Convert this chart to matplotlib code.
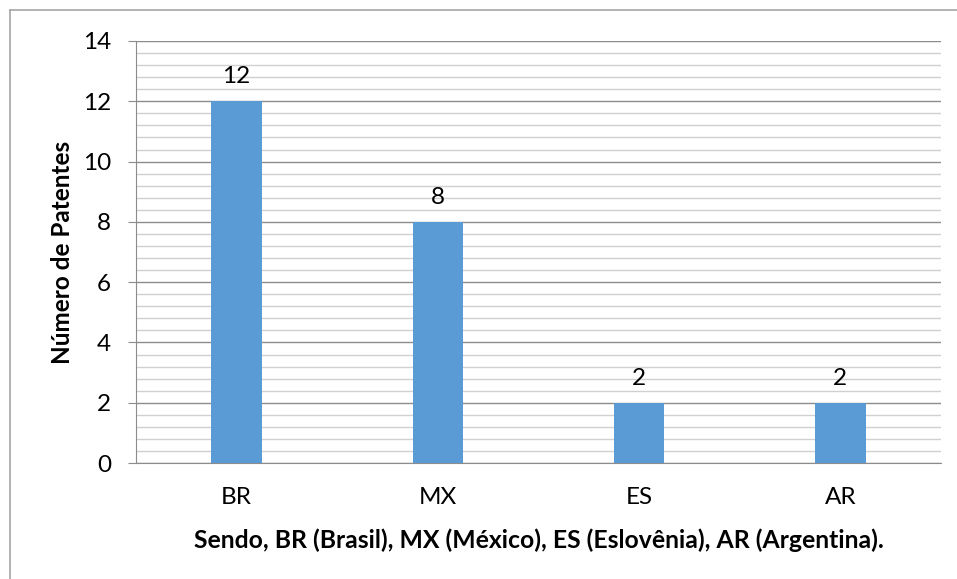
import numpy as np
import matplotlib.pyplot as plt
from matplotlib.lines import Line2D

# data
paises = ["BR", "MX", "ES", "AR"]
patentes = [12, 8, 2, 2]

plt.rcParams['font.family'] = ['Lato', 'DejaVu Sans']

fig = plt.figure(figsize=(9.57, 5.79), dpi=100)
ax = fig.add_axes([0.1421, 0.2003, 0.8412, 0.7289])

x = np.arange(len(paises))
ax.bar(x, patentes, width=0.25, color="#5b9bd5", zorder=3)

for xi, v in zip(x, patentes):
    ax.annotate(str(v), (xi, v), xytext=(0, 10), textcoords="offset points",
                ha="center", va="bottom", fontsize=17.5)

ax.set_xlim(-0.5, len(paises) - 0.5)
ax.set_ylim(0, 14)
ax.set_yticks(np.arange(0, 15, 2))
ax.set_yticks(np.arange(0, 14.01, 0.4), minor=True)
ax.grid(which="major", axis="y", color="#8c8c8c", linewidth=1, zorder=0)
ax.grid(which="minor", axis="y", color="#d0d0d0", linewidth=1, zorder=0)

ax.set_xticks(x)
ax.set_xticklabels(paises, fontsize=17.5)
ax.tick_params(axis="x", length=0, pad=17)
ax.tick_params(axis="y", which="major", length=6, color="#8c8c8c", labelsize=17.5, pad=12)
ax.tick_params(axis="y", which="minor", length=0)

for s in ["top", "right"]:
    ax.spines[s].set_visible(False)
ax.spines["left"].set_color("#8c8c8c")
ax.spines["bottom"].set_color("#8c8c8c")

ax.set_ylabel("Número de Patentes", fontsize=17.5, fontweight="bold", labelpad=6)
ax.set_xlabel("Sendo, BR (Brasil), MX (México), ES (Eslovênia), AR (Argentina).",
              fontsize=17.8, fontweight="bold", labelpad=15)

# outer frame (only top and left visible)
fig.add_artist(Line2D([0.0105, 1.0], [0.983, 0.983], color="#a6a6a6", lw=1.2))
fig.add_artist(Line2D([0.0105, 0.0105], [0.0, 0.983], color="#a6a6a6", lw=1.2))

fig.savefig("out.png", dpi=100)
